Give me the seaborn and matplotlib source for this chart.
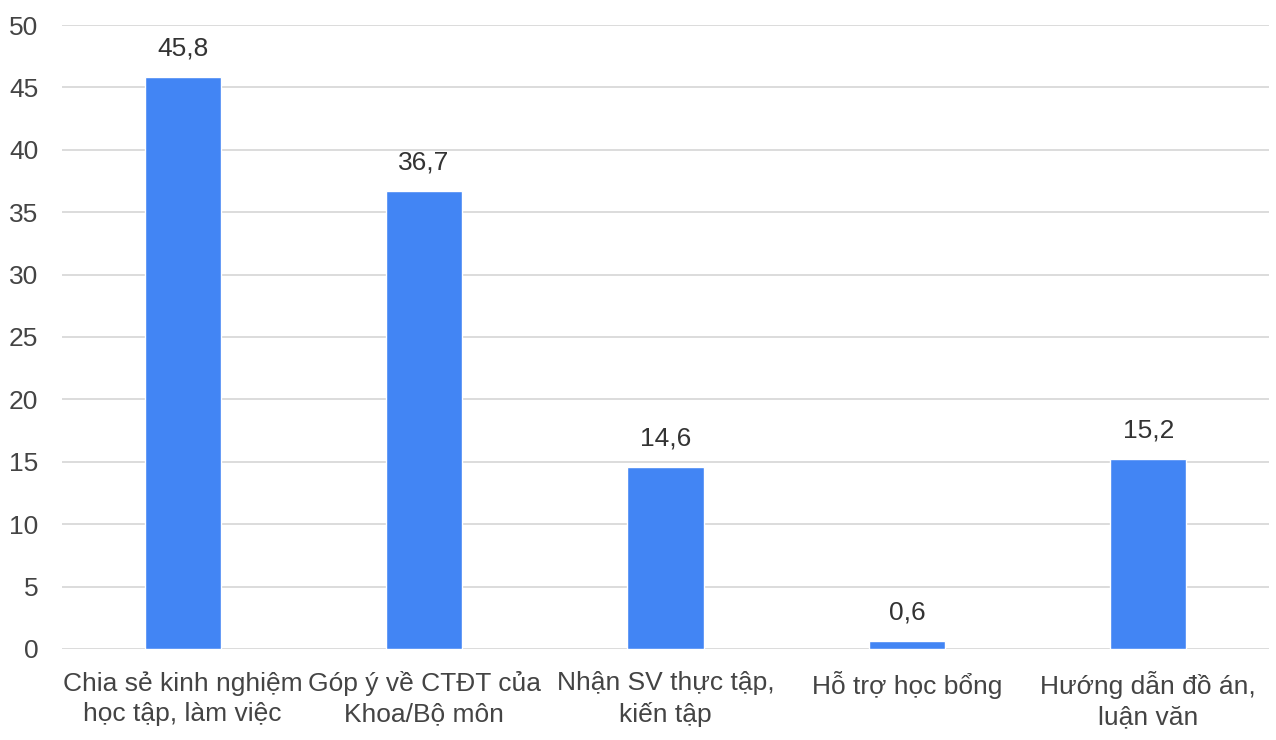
import matplotlib
matplotlib.use("Agg")
import matplotlib.pyplot as plt
import seaborn as sns
import pandas as pd

categories = [
    "Chia sẻ kinh nghiệm\nhọc tập, làm việc",
    "Góp ý về CTĐT của\nKhoa/Bộ môn",
    "Nhận SV thực tập,\nkiến tập",
    "Hỗ trợ học bổng",
    "Hướng dẫn đồ án,\nluận văn",
]
values = [45.8, 36.7, 14.6, 0.6, 15.2]
value_labels = ["45,8", "36,7", "14,6", "0,6", "15,2"]
y_ticks = [0, 5, 10, 15, 20, 25, 30, 35, 40, 45, 50]

sns.set_theme(style="white")
plt.rcParams["font.family"] = ["Liberation Sans", "DejaVu Sans"]

df = pd.DataFrame({"category": categories, "value": values})

fig = plt.figure(figsize=(12.76, 7.40), dpi=100)
ax = fig.add_axes([0.0486, 0.123, 0.9459, 0.8432])

sns.barplot(data=df, x="category", y="value", color="#4285F4",
            saturation=1, width=0.315, ax=ax, zorder=3)

ax.set_ylim(0, 50)
ax.set_xlim(-0.5, len(categories) - 0.5)
ax.set_yticks(y_ticks)
ax.set_yticklabels([str(t) for t in y_ticks])
ax.yaxis.grid(True, color="#d9d9d9", linewidth=1.3, zorder=0)
ax.set_axisbelow(True)
for s in ax.spines.values():
    s.set_visible(False)

ax.set_xlabel("")
ax.set_ylabel("")
ax.tick_params(axis="y", length=0, pad=17, labelsize=19, labelcolor="#444444")
ax.tick_params(axis="x", length=0, pad=16, labelsize=19, labelcolor="#444444")
for lbl in ax.get_xticklabels():
    lbl.set_linespacing(1.32)

for bar, txt in zip(ax.patches, value_labels):
    ax.annotate(txt, (bar.get_x() + bar.get_width() / 2, bar.get_height()),
                xytext=(0, 12), textcoords="offset points",
                ha="center", va="bottom", fontsize=19, color="#333333")

fig.savefig("out.png", dpi=100)
